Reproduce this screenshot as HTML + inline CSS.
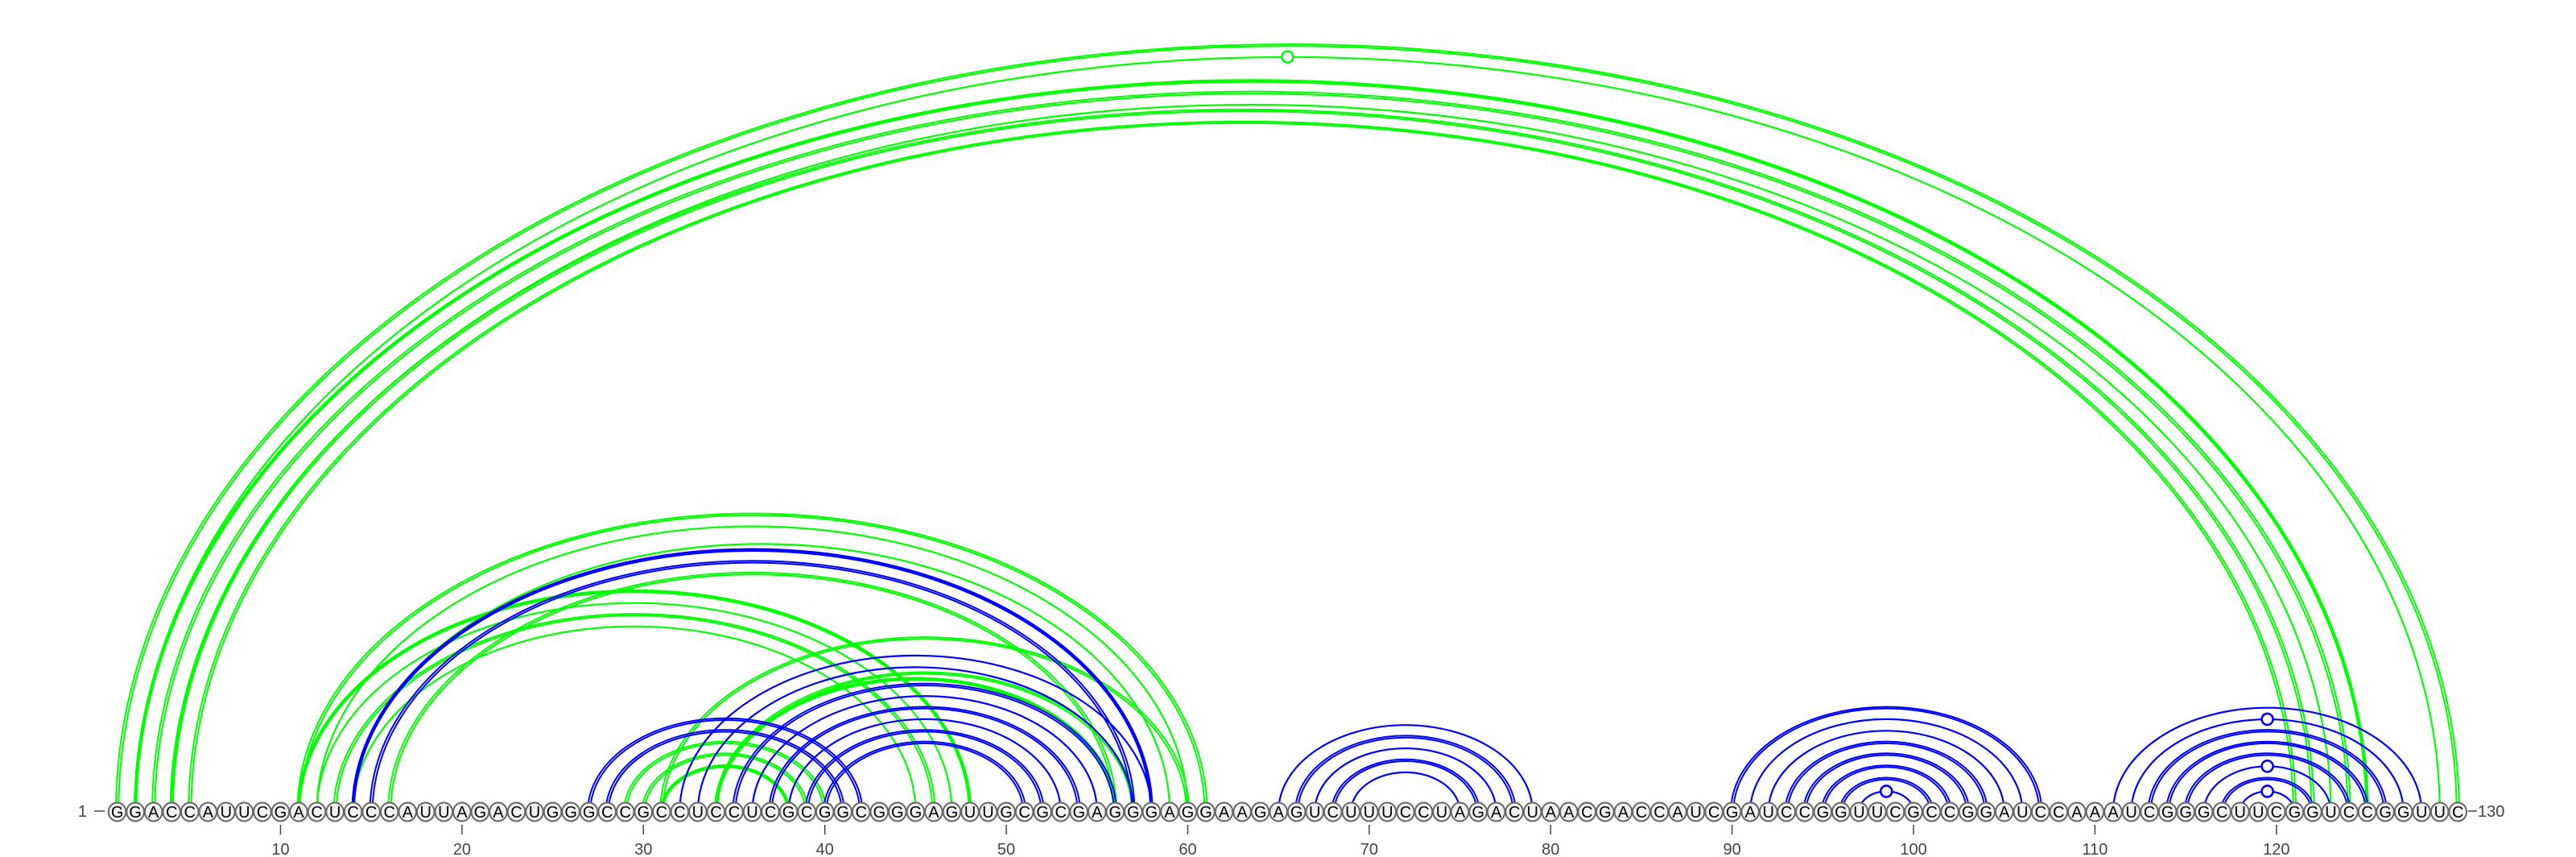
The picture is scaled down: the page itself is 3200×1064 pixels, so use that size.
<!DOCTYPE html>
<html><head><meta charset="utf-8"><title>RNA arc diagram</title>
<style>
html,body{margin:0;padding:0;background:#fff;}
svg{display:block;}
text{font-family:"Liberation Sans",sans-serif;}
</style></head>
<body>
<svg id="chart" width="3200" height="1064" viewBox="0 0 3200 1064" xmlns="http://www.w3.org/2000/svg">
<g id="arcs"></g>
<g id="nts"></g>
<g id="axis"></g>
</svg>
<script>
const sequence = "GGACCAUUCGACUCCCAUUAGACUGGGCCGCCUCCUCGCGGCGGGAGUUGCGCGAGGGAGGAAGAGUCUUUCCUAGACUAACGACCAUCGAUCCGGUUCGCCGGAUCCAAAUCGGGCUUCGGUCCGGUUC";
// green structure pairs: [i, j]
const greenPairs = [[1,130],[2,129],[2,125],[3,124],[4,123],[4,122],[5,121],
  [11,61],[12,60],[16,56],[14,59],[11,48],[12,47],[13,46],[14,45],
  [31,60],[34,57],[34,56],[29,40],[30,39],[31,38]];
const greenStyles = ["d","s","t","d","s","d","d",
  "d","s","d","s","t","s","d","s",
  "d","d","t","d","d","t"];
const greenMarks = [0,1,0,0,0,0,0, 0,0,0,0,0,0,0,0, 0,0,0,0,0,0];
// blue structure pairs
const bluePairs = [[14,58],[15,57],[27,42],[28,41],
  [32,58],[33,57],[35,56],[36,55],[37,54],[38,53],[39,52],[40,51],
  [65,79],[66,78],[67,77],[68,76],[69,75],
  [90,107],[91,106],[92,105],[93,104],[94,103],[95,102],[96,101],[97,100],
  [111,128],[112,127],[113,126],[114,125],[115,124],[116,123],[117,122],[118,121]];
const blueStyles = ["t","d","d","d",
  "s","s","d","s","d","s","d","d",
  "s","d","s","d","s",
  "d","s","s","d","d","d","d","s",
  "s","s","d","d","d","s","d","s"];
const blueMarks = [0,0,0,0, 0,0,0,0,0,0,0,0, 0,0,0,0,0, 0,0,0,0,0,0,0,1, 0,1,0,0,0,1,0,1];
const tickValues = [10,20,30,40,50,60,70,80,90,100,110,120];

const NS="http://www.w3.org/2000/svg";
const X0=145.6, DX=22.54, BASE=1008;
function xPos(i){return X0+(i-1)*DX;}
function arcHeight(hw){return hw*(0.655+0.14*Math.exp(-hw/100));}
function mk(tag,attrs,parent){const e=document.createElementNS(NS,tag);for(const k in attrs)e.setAttribute(k,attrs[k]);parent.appendChild(e);return e;}

const arcsG=document.getElementById('arcs');
function drawArc(a,b,color,style,mark,name){
  const x1=xPos(a),x2=xPos(b),hw=(x2-x1)/2,h=arcHeight(hw);
  const offs = style==="d"?[-1.6,1.6]:[0];
  const sw = style==="t"?4.5:(style==="d"?2:2.2);
  offs.forEach(o=>{
    const p=mk('path',{d:`M${x1+o},${BASE} A${hw-o},${h-o*0.7} 0 0 1 ${x2-o},${BASE}`,fill:'none',stroke:color,'stroke-width':sw},arcsG);
    
    
  });
  if(mark){
    const c=mk('circle',{cx:(x1+x2)/2,cy:BASE-h,r:7,fill:'#fff',stroke:color,'stroke-width':2.6},arcsG);
    
    
  }
}
greenPairs.forEach((p,k)=>drawArc(p[0],p[1],'#00ff00',greenStyles[k],greenMarks[k],'green-arc-'+p[0]+'-'+p[1]));
bluePairs.forEach((p,k)=>drawArc(p[0],p[1],'#0000ff',blueStyles[k],blueMarks[k],'blue-arc-'+p[0]+'-'+p[1]));

const ntG=document.getElementById('nts');
for(let i=1;i<=sequence.length;i++){
  const g=mk('g',{},ntG);
  
  
  mk('ellipse',{cx:xPos(i),cy:BASE,rx:10.8,ry:11.5,fill:'#f2f2f2',stroke:'#666','stroke-width':2},g);
  const t=mk('text',{x:xPos(i),y:BASE+7,'text-anchor':'middle','font-size':20,fill:'#000'},g);
  t.textContent=sequence[i-1];
}
const ax=document.getElementById('axis');
tickValues.forEach(v=>{
  const l=mk('line',{x1:xPos(v),x2:xPos(v),y1:1024,y2:1036,stroke:'#444','stroke-width':1.5},ax);
  
  
  const t=mk('text',{x:xPos(v),y:1061,'text-anchor':'middle','font-size':20,fill:'#444'},ax);
  
  
  t.textContent=v;
});
const s=mk('text',{x:108,y:1014,'text-anchor':'end','font-size':20,fill:'#444'},ax);


s.textContent='1';
mk('line',{x1:117,x2:130,y1:1007,y2:1007,stroke:'#444','stroke-width':1.5},ax);
const e=mk('text',{x:3078,y:1014,'text-anchor':'start','font-size':20,fill:'#444'},ax);


e.textContent='130';
mk('line',{x1:3066,x2:3077,y1:1007,y2:1007,stroke:'#444','stroke-width':1.5},ax);
</script>
</body></html>
